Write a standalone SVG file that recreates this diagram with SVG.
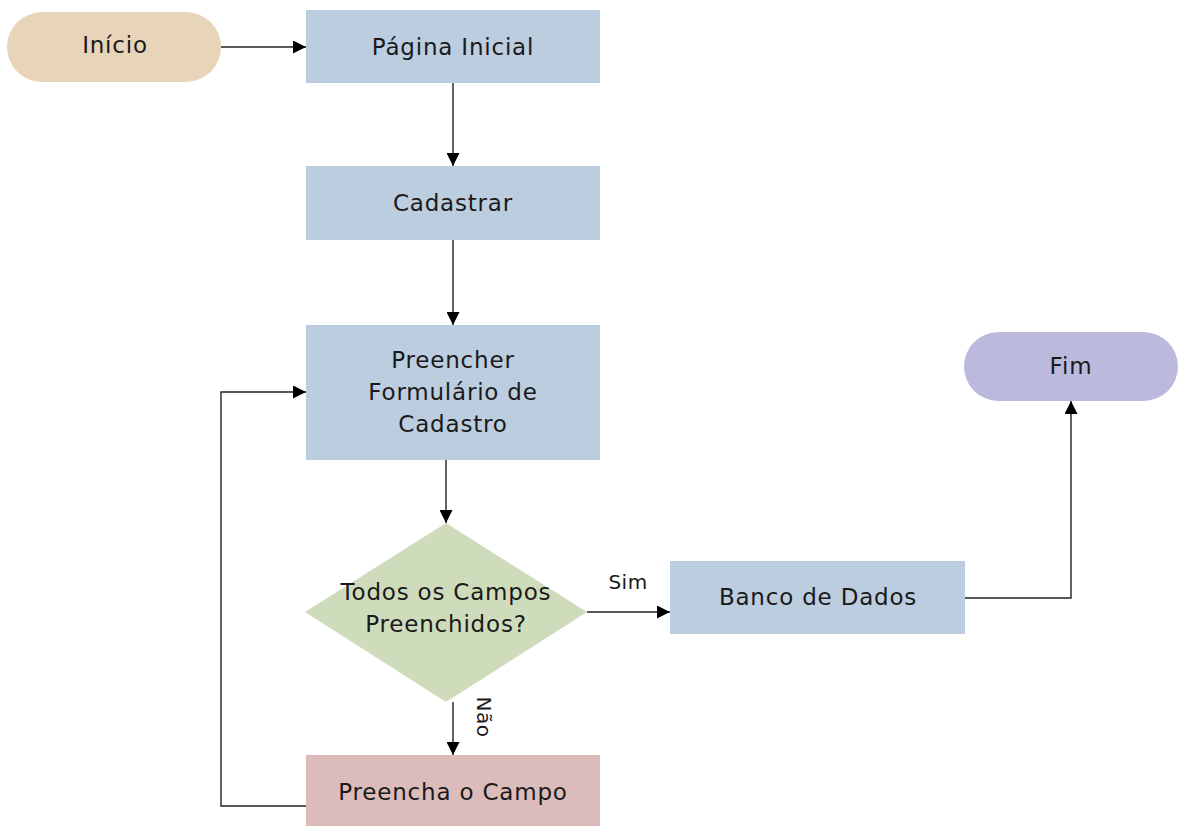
<svg xmlns="http://www.w3.org/2000/svg" width="1179" height="826" viewBox="0 0 1179 826">
<style>
text{font-family:"DejaVu Sans",Verdana,sans-serif;font-size:23px;fill:#1a1a1a;text-anchor:middle;dominant-baseline:central;letter-spacing:0.8px}
.lbl{font-size:20px;letter-spacing:0.5px}
.box{fill:#bccde0}
.edge{fill:none;stroke:#222;stroke-width:1.4}
</style>
<defs>
<marker id="ah" viewBox="0 0 13 13" refX="13" refY="6.5" markerWidth="13" markerHeight="13" markerUnits="userSpaceOnUse" orient="auto">
<path d="M0,0 L13,6.5 L0,13 Z" fill="#000"/>
</marker>
</defs>
<rect width="1179" height="826" fill="#fff"/>
<g id="connectors">
<path class="edge" d="M221,47 H306" marker-end="url(#ah)"/>
<path class="edge" d="M453,83 V166" marker-end="url(#ah)"/>
<path class="edge" d="M453,240 V325" marker-end="url(#ah)"/>
<path class="edge" d="M446,460 V523" marker-end="url(#ah)"/>
<path class="edge" d="M587,612 H670" marker-end="url(#ah)"/>
<path class="edge" d="M453,702 V755" marker-end="url(#ah)"/>
<path class="edge" d="M306,806 H221 V392 H306" marker-end="url(#ah)"/>
<path class="edge" d="M965,598 H1071 V401" marker-end="url(#ah)"/>
<text class="lbl" x="628" y="582">Sim</text>
<text class="lbl" x="484" y="717" transform="rotate(90 484 717)">Não</text>
</g>
<g id="inicio">
<rect x="7" y="12" width="214" height="70" rx="35" fill="#e8d5b9"/>
<text x="115" y="45">Início</text>
</g>
<g id="pagina-inicial">
<rect class="box" x="306" y="10" width="294" height="73"/>
<text x="453" y="47">Página Inicial</text>
</g>
<g id="cadastrar">
<rect class="box" x="306" y="166" width="294" height="74"/>
<text x="453" y="203">Cadastrar</text>
</g>
<g id="preencher-formulario">
<rect class="box" x="306" y="325" width="294" height="135"/>
<text x="453" y="360">Preencher</text>
<text x="453" y="392">Formulário de</text>
<text x="453" y="424">Cadastro</text>
</g>
<g id="decisao">
<polygon points="446,523 587,612 446,702 305,612" fill="#cfdcbc"/>
<text x="446" y="592">Todos os Campos</text>
<text x="446" y="624">Preenchidos?</text>
</g>
<g id="banco-de-dados">
<rect class="box" x="670" y="561" width="295" height="73"/>
<text x="818" y="597">Banco de Dados</text>
</g>
<g id="preencha-campo">
<rect x="306" y="755" width="294" height="71" fill="#dcbcbb"/>
<text x="453" y="792">Preencha o Campo</text>
</g>
<g id="fim">
<rect x="964" y="332" width="214" height="69" rx="34.5" fill="#bbbadd"/>
<text x="1071" y="366">Fim</text>
</g>
</svg>
